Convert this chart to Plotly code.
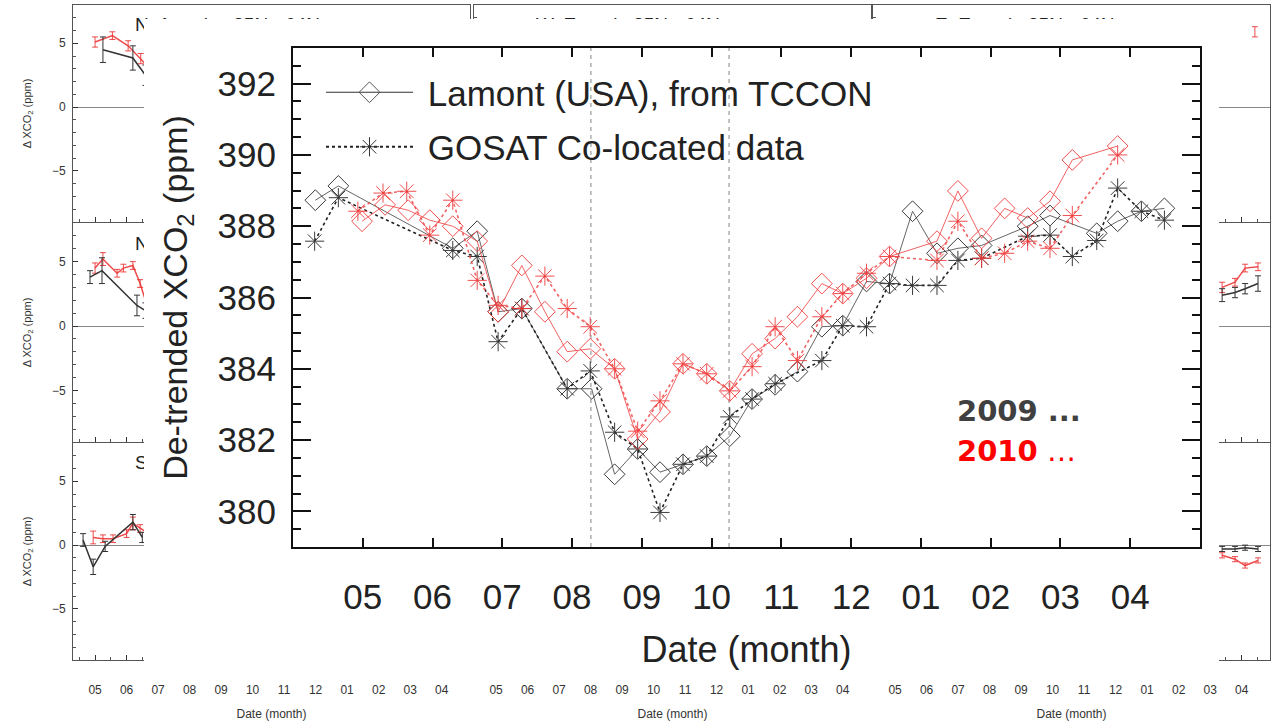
import plotly.graph_objects as go

W, H = 1277, 725

# ---------------- data: main chart (Lamont) ----------------
month_ticks = [1, 2, 3, 4, 5, 6, 7, 8, 9, 10, 11, 12]
month_labels = ["05", "06", "07", "08", "09", "10", "11", "12", "01", "02", "03", "04"]

tccon09_x = [0.32, 0.65, 2.29, 2.64, 2.94, 3.28, 3.93, 4.28, 4.61, 4.94, 5.26, 5.59, 5.93, 6.26, 6.58, 6.91,
             7.23, 7.58, 7.88, 8.22, 8.55, 8.88, 9.23, 9.53, 9.87, 10.53, 10.85, 11.52, 11.82, 12.16, 12.49]
tccon09_y = [388.73, 389.13, 387.38, 387.86, 385.6, 385.69, 383.44, 383.44, 381.04, 381.75, 381.1, 381.32,
             381.55, 382.11, 383.15, 383.55, 383.92, 385.18, 385.21, 386.45, 386.39, 388.42, 387.24, 387.38,
             387.46, 388.0, 388.3, 387.8, 388.14, 388.42, 388.5]

gosat09_x = [0.31, 0.65, 2.29, 2.64, 2.94, 3.28, 3.93, 4.26, 4.61, 4.94, 5.26, 5.59, 5.93, 6.26, 6.58, 6.91,
             7.58, 7.88, 8.22, 8.55, 8.88, 9.23, 9.53, 9.87, 10.53, 10.85, 11.17, 11.52, 11.82, 12.16, 12.49]
gosat09_y = [387.58, 388.8, 387.32, 387.15, 384.76, 385.69, 383.44, 383.94, 382.22, 381.75, 379.97, 381.32,
             381.55, 382.65, 383.15, 383.58, 384.23, 385.21, 385.18, 386.39, 386.34, 386.34, 387.04, 387.1,
             387.72, 387.75, 387.15, 387.6, 389.07, 388.42, 388.17]

tccon10_x = [0.99, 1.32, 1.65, 1.96, 2.29, 2.64, 2.94, 3.28, 3.61, 3.93, 4.26, 4.61, 4.94, 5.26, 5.59, 5.93,
             6.26, 6.58, 6.91, 7.23, 7.58, 7.88, 8.22, 8.55, 9.23, 9.53, 9.87, 10.2, 10.53, 10.85, 11.17, 11.82]
tccon10_y = [388.14, 388.6, 388.45, 388.17, 388.0, 387.58, 385.6, 386.9, 385.6, 384.48, 384.56, 384.0,
             382.03, 382.79, 384.14, 383.86, 383.38, 384.42, 384.85, 385.46, 386.39, 386.11, 386.54, 387.15,
             387.58, 388.99, 387.66, 388.5, 388.23, 388.7, 389.86, 390.25]

gosat10_x = [0.93, 1.29, 1.63, 1.96, 2.29, 2.64, 2.94, 3.28, 3.61, 3.93, 4.26, 4.61, 4.94, 5.26, 5.59, 5.93,
             6.26, 6.58, 6.91, 7.23, 7.58, 7.88, 8.22, 8.55, 9.23, 9.53, 9.87, 10.2, 10.53, 10.85, 11.17, 11.82]
gosat10_y = [388.42, 388.93, 388.98, 387.75, 388.73, 386.48, 385.78, 385.69, 386.6, 385.69, 385.18, 384.0,
             382.25, 383.1, 384.14, 383.86, 383.38, 384.06, 385.18, 384.23, 385.46, 386.11, 386.68, 387.15,
             387.04, 388.14, 387.1, 387.24, 387.58, 387.38, 388.3, 390.0]

period_bounds = [4.27, 6.25]

# ---------------- data: background panels (visible fragments) ----------------
# titles of the partly hidden background panels (only their edges show)
panel_titles = {1: "N. America 35N - 64N", 2: "W. Eurasia 35N - 64N", 3: "E. Eurasia 35N - 64N",
                4: "N", 7: "S"}

c1r1_red_x = [1.0, 1.55, 2.05, 2.45, 2.9]
c1r1_red_y = [5.1, 5.6, 4.8, 3.8, 2.6]
c1r1_red_e = [0.4, 0.3, 0.4, 0.4, 0.5]
c1r1_blk_x = [1.25, 2.2, 2.6]
c1r1_blk_y = [4.5, 3.85, 2.5]
c1r1_blk_e = [1.0, 0.95, 0.8]

c1r2_red_x = [1.0, 1.25, 1.7, 1.9, 2.2, 2.43, 2.65]
c1r2_red_y = [4.5, 5.2, 4.1, 4.5, 4.7, 3.3, 1.6]
c1r2_red_e = [0.4, 0.5, 0.3, 0.3, 0.3, 0.3, 0.4]
c1r2_blk_x = [0.84, 1.22, 2.33, 2.6]
c1r2_blk_y = [3.8, 4.3, 1.6, 1.2]
c1r2_blk_e = [0.5, 1.0, 0.8, 0.6]

c1r3_red_x = [0.94, 1.25, 1.57, 2.0, 2.2, 2.43, 2.7]
c1r3_red_y = [0.6, 0.5, 0.5, 0.9, 1.7, 1.3, 0.9]
c1r3_red_e = [0.5, 0.3, 0.3, 0.3, 0.5, 0.3, 0.3]
c1r3_blk_x = [0.62, 0.94, 1.32, 2.2, 2.5]
c1r3_blk_y = [0.4, -1.7, -0.1, 1.8, 0.6]
c1r3_blk_e = [0.5, 0.6, 0.4, 0.6, 0.4]

c3r1_red_x = [12.42]
c3r1_red_y = [5.9]
c3r1_red_e = [0.4]

c3r2_red_x = [11.38, 11.79, 12.11, 12.52]
c3r2_red_y = [3.0, 3.4, 4.5, 4.6]
c3r2_red_e = [0.4, 0.3, 0.3, 0.3]
c3r2_blk_x = [11.38, 11.79, 12.11, 12.52]
c3r2_blk_y = [2.4, 2.6, 2.9, 3.3]
c3r2_blk_e = [0.5, 0.4, 0.4, 0.6]

c3r3_red_x = [11.38, 11.79, 12.11, 12.52]
c3r3_red_y = [-0.8, -1.1, -1.6, -1.2]
c3r3_red_e = [0.2, 0.2, 0.2, 0.2]
c3r3_blk_x = [11.38, 11.79, 12.11, 12.52]
c3r3_blk_y = [-0.3, -0.3, -0.2, -0.3]
c3r3_blk_e = [0.2, 0.2, 0.2, 0.2]

panel_data = {
    1: [(c1r1_red_x, c1r1_red_y, c1r1_red_e, "red"), (c1r1_blk_x, c1r1_blk_y, c1r1_blk_e, "blk")],
    4: [(c1r2_red_x, c1r2_red_y, c1r2_red_e, "red"), (c1r2_blk_x, c1r2_blk_y, c1r2_blk_e, "blk")],
    7: [(c1r3_red_x, c1r3_red_y, c1r3_red_e, "red"), (c1r3_blk_x, c1r3_blk_y, c1r3_blk_e, "blk")],
    3: [(c3r1_red_x, c3r1_red_y, c3r1_red_e, "red")],
    6: [(c3r2_red_x, c3r2_red_y, c3r2_red_e, "red"), (c3r2_blk_x, c3r2_blk_y, c3r2_blk_e, "blk")],
    9: [(c3r3_red_x, c3r3_red_y, c3r3_red_e, "red"), (c3r3_blk_x, c3r3_blk_y, c3r3_blk_e, "blk")],
}


def pxx(v):
    return v / W


def pyy(v):
    return 1 - v / H


FONT = "Liberation Sans, Arial, Helvetica, sans-serif"
fig = go.Figure()
layout = {}

# ---------------- background 3x3 panels ----------------
cols = [(73, 470), (474, 871), (873, 1270)]
rows = [(5, 222), (223, 442), (443, 660)]
for r in range(3):
    for c in range(3):
        n = r * 3 + c + 1
        xa, ya = "x%d" % n, "y%d" % n
        xdict = dict(
            domain=[pxx(cols[c][0]), pxx(cols[c][1])], range=[0.3, 12.9], anchor=ya, automargin=False,
            showline=True, mirror=True, linecolor="#555", linewidth=1, showgrid=False, zeroline=False,
            ticks="inside", ticklen=5, tickcolor="#333", tickvals=month_ticks, ticktext=month_labels,
            showticklabels=(r == 2), tickfont=dict(size=12, color="#333", family=FONT),
            ticklabelstandoff=19,
            minor=dict(tickmode="linear", tick0=0.5, dtick=0.5, ticks="inside", ticklen=3, tickcolor="#555"),
        )
        if r == 2:
            xdict["title"] = dict(text="Date (month)", font=dict(size=12, color="#333", family=FONT), standoff=13)
        ydict = dict(
            domain=[pyy(rows[r][1]), pyy(rows[r][0])], range=[-9, 8], anchor=xa, automargin=False,
            showline=True, mirror=True, linecolor="#555", linewidth=1, showgrid=False,
            zeroline=True, zerolinecolor="#888", zerolinewidth=1,
            ticks="inside", ticklen=5, tickcolor="#333", tickvals=[-5, 0, 5],
            minor=dict(tickmode="linear", tick0=0, dtick=1, ticks="inside", ticklen=3, tickcolor="#555"),
            showticklabels=(c == 0), tickfont=dict(size=12, color="#333", family=FONT), ticklabelstandoff=4,
        )
        if c == 0:
            ydict["title"] = dict(text="\u0394 XCO<sub>2</sub> (ppm)",
                                  font=dict(size=11, color="#333", family=FONT), standoff=18)
        layout["xaxis%d" % n] = xdict
        layout["yaxis%d" % n] = ydict
        # empty trace so that every panel's axes get drawn
        fig.add_trace(go.Scatter(x=[None], y=[None], xaxis=xa, yaxis=ya, showlegend=False, hoverinfo="skip"))
        if n in panel_titles:
            fig.add_trace(go.Scatter(x=[2.27], y=[6.3], mode="text", text=[panel_titles[n]],
                                     textposition="middle right",
                                     textfont=dict(size=19, color="#222", family=FONT),
                                     xaxis=xa, yaxis=ya, showlegend=False, hoverinfo="skip"))
        for (bx, by, be, kind) in panel_data.get(n, []):
            colr = "rgba(235,45,45,0.85)" if kind == "red" else "#333"
            fig.add_trace(go.Scatter(x=bx, y=by, mode="lines", line=dict(color=colr, width=1.5),
                                     error_y=dict(type="data", array=be, color=colr, thickness=1, width=3),
                                     xaxis=xa, yaxis=ya, showlegend=False, hoverinfo="skip"))

# ---------------- white cover (inset background) ----------------
fig.add_trace(go.Scatter(x=[None], y=[None], xaxis="x10", yaxis="y10", showlegend=False, hoverinfo="skip"))
layout["xaxis10"] = dict(domain=[pxx(144), pxx(1219)], range=[0, 1], visible=False, anchor="y10")
layout["yaxis10"] = dict(domain=[pyy(674), pyy(19)], range=[0, 1], visible=False, anchor="x10")

# ---------------- main inset chart ----------------
blk_line = "#666"
blk_mark = "#3a3a3a"
red_line = "rgba(240,70,70,0.85)"
red_mark = "rgba(240,60,60,0.9)"

fig.add_trace(go.Scatter(x=tccon09_x, y=tccon09_y, mode="lines+markers", xaxis="x11", yaxis="y11",
                         line=dict(color=blk_line, width=1),
                         marker=dict(symbol="diamond-open", size=16, color=blk_mark, line=dict(width=1)),
                         showlegend=False, name="TCCON 2009"))
fig.add_trace(go.Scatter(x=gosat09_x, y=gosat09_y, mode="lines+markers", xaxis="x11", yaxis="y11",
                         line=dict(color="#222", width=1.6, dash="dot"),
                         marker=dict(symbol="asterisk-open", size=16, color=blk_mark, line=dict(width=1)),
                         showlegend=False, name="GOSAT 2009"))
fig.add_trace(go.Scatter(x=tccon10_x, y=tccon10_y, mode="lines+markers", xaxis="x11", yaxis="y11",
                         line=dict(color=red_line, width=1),
                         marker=dict(symbol="diamond-open", size=16, color=red_mark, line=dict(width=1)),
                         showlegend=False, name="TCCON 2010"))
fig.add_trace(go.Scatter(x=gosat10_x, y=gosat10_y, mode="lines+markers", xaxis="x11", yaxis="y11",
                         line=dict(color=red_line, width=1.6, dash="dot"),
                         marker=dict(symbol="asterisk-open", size=16, color=red_mark, line=dict(width=1)),
                         showlegend=False, name="GOSAT 2010"))

# legend entries
fig.add_trace(go.Scatter(x=[None], y=[None], mode="lines+markers", xaxis="x11", yaxis="y11",
                         line=dict(color="#333", width=1.2),
                         marker=dict(symbol="diamond-open", size=16, color="#555", line=dict(width=1)),
                         name="\u00a0Lamont (USA), from TCCON", legendgroup="a"))
fig.add_trace(go.Scatter(x=[None], y=[None], mode="lines+markers", xaxis="x11", yaxis="y11",
                         line=dict(color="#222", width=2, dash="dot"),
                         marker=dict(symbol="asterisk-open", size=16, color="#333", line=dict(width=1)),
                         name="\u00a0GOSAT Co-located data", legendgroup="b"))

for xb in period_bounds:
    fig.add_shape(type="line", x0=xb, x1=xb, y0=379, y1=393, xref="x11", yref="y11", layer="below",
                  line=dict(color="#999", width=1.2, dash="4px,4px"))

layout["xaxis11"] = dict(
    domain=[pxx(293), pxx(1200)], range=[0, 13], anchor="y11", automargin=False,
    showline=True, mirror="ticks", linecolor="#111", linewidth=2, showgrid=False, zeroline=False,
    ticks="inside", ticklen=9, tickwidth=2, tickcolor="#111",
    tickvals=month_ticks, ticktext=month_labels,
    tickfont=dict(size=35, color="#222", family=FONT), ticklabelstandoff=18,
    title=dict(text="Date (month)", font=dict(size=36, color="#222", family=FONT), standoff=22),
)
layout["yaxis11"] = dict(
    domain=[pyy(547), pyy(48)], range=[379, 393], anchor="x11", automargin=False,
    showline=True, mirror="ticks", linecolor="#111", linewidth=2, showgrid=False, zeroline=False,
    ticks="inside", ticklen=18, tickwidth=2, tickcolor="#111",
    tickvals=[380, 382, 384, 386, 388, 390, 392],
    minor=dict(tickmode="linear", tick0=379, dtick=0.5, ticks="inside", ticklen=8, tickwidth=1.5,
               tickcolor="#111"),
    tickfont=dict(size=35, color="#222", family=FONT), ticklabelstandoff=8,
    title=dict(text="De-trended XCO<sub>2</sub> (ppm)", font=dict(size=34, color="#222", family=FONT),
               standoff=20),
)

fig.update_layout(
    width=W, height=H, margin=dict(l=0, r=0, t=0, b=0),
    paper_bgcolor="white", plot_bgcolor="white",
    showlegend=True,
    legend=dict(x=pxx(321), y=pyy(63), xanchor="left", yanchor="top", bgcolor="rgba(0,0,0,0)",
                font=dict(size=35, color="#222", family=FONT), itemwidth=87, tracegroupgap=6,
                traceorder="grouped"),
    annotations=[
        dict(text="<b>2009 ...</b>", x=pxx(955), y=pyy(411), xref="paper", yref="paper", xanchor="left",
             yanchor="middle", showarrow=False, font=dict(size=29, color="#404040", family="DejaVu Sans")),
        dict(text="<b>2010</b> \u2026", x=pxx(955), y=pyy(451), xref="paper", yref="paper", xanchor="left",
             yanchor="middle", showarrow=False, font=dict(size=29, color="#ff0000", family="DejaVu Sans")),
    ],
    **layout,
)

fig.write_html("out.html", config={"displayModeBar": False},
               post_script="document.body.style.margin='0';document.body.style.padding='0';")
